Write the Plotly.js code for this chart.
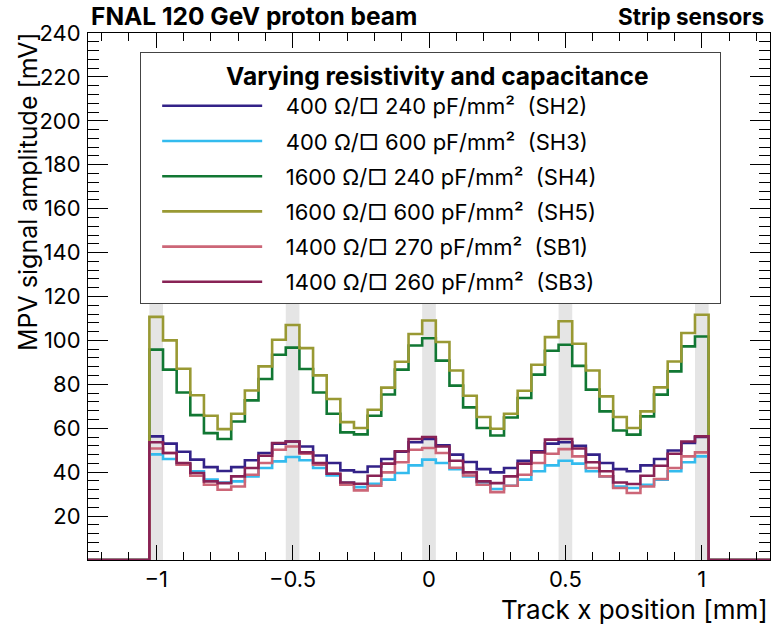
<!DOCTYPE html>
<html>
<head>
<meta charset="utf-8">
<script src="https://cdn.plot.ly/plotly-3.0.1.min.js"></script>
<style>html,body{margin:0;padding:0;background:#fff;}#chart{width:771px;height:626px;}</style>
</head>
<body>
<div id="chart"></div>
<script>
// Bin centres of the track x position histogram [mm]
const binCenters = [-1.00,-0.95,-0.90,-0.85,-0.80,-0.75,-0.70,-0.65,-0.60,-0.55,-0.50,
  -0.45,-0.40,-0.35,-0.30,-0.25,-0.20,-0.15,-0.10,-0.05,0.00,
  0.05,0.10,0.15,0.20,0.25,0.30,0.35,0.40,0.45,0.50,
  0.55,0.60,0.65,0.70,0.75,0.80,0.85,0.90,0.95,1.00];
const binWidth = 0.05;
const axisRange = [-1.25, 1.25];

// MPV signal amplitude [mV] per bin
const sh2 = [56.3,53.0,49.3,45.7,42.3,40.5,42.3,45.4,48.7,53.0,54.0,
  51.7,47.6,44.2,40.8,40.1,42.6,46.0,49.3,53.6,55.1,
  52.2,48.0,44.6,41.4,39.9,41.9,45.2,49.5,53.0,53.6,
  52.0,48.0,44.2,41.4,40.4,43.1,46.0,49.9,53.3,56.0];
const sh3 = [48.1,46.0,43.7,40.4,36.6,35.3,35.8,38.1,41.9,44.9,46.9,
  45.4,41.9,38.5,35.3,33.2,34.7,36.6,39.6,43.1,45.7,
  44.2,41.4,38.1,35.3,32.3,33.8,36.6,40.4,43.1,45.2,
  43.9,40.4,38.1,33.5,32.8,34.3,36.6,40.4,44.5,47.2];
const sh4 = [95.8,86.7,76.3,66.0,57.8,55.1,63.1,72.7,82.4,93.5,96.7,
  87.0,76.3,66.6,58.1,57.2,65.7,75.4,86.7,97.7,101.0,
  90.8,79.4,69.5,60.1,56.7,64.9,73.8,84.4,95.3,98.0,
  88.4,77.6,67.7,59.0,57.1,65.4,75.3,85.9,97.3,101.8];
const sh5 = [110.7,100.0,87.1,75.0,65.7,59.6,66.6,77.2,88.2,100.3,107.0,
  96.5,84.1,73.3,62.8,60.1,68.4,78.5,90.3,102.9,109.1,
  99.3,86.3,74.8,65.1,59.8,66.6,77.1,88.9,101.5,108.7,
  98.5,86.3,74.5,65.1,60.1,67.7,78.6,90.4,103.4,111.7];
const sb1 = [50.8,48.7,43.4,38.4,34.3,32.0,33.5,38.8,44.2,50.2,51.7,
  48.4,43.4,39.3,34.3,31.7,33.8,39.9,44.5,50.2,51.0,
  48.7,42.0,38.5,34.3,30.9,33.8,38.8,44.2,48.4,50.5,
  47.2,41.9,38.1,32.8,30.5,33.5,36.9,41.9,47.2,49.0];
const sb3 = [53.6,48.7,44.2,39.6,35.8,35.0,38.1,41.9,47.5,53.3,54.0,
  49.0,44.2,39.3,35.3,34.7,38.4,43.9,49.5,55.1,56.0,
  51.7,45.2,39.9,35.8,35.0,38.1,43.9,49.0,54.8,55.1,
  50.8,44.5,40.4,35.3,34.6,38.4,42.9,48.4,54.0,56.3];

const seriesNames = [
  "400 Ω/□ 240 pF/mm²  (SH2)",
  "400 Ω/□ 600 pF/mm²  (SH3)",
  "1600 Ω/□ 240 pF/mm²  (SH4)",
  "1600 Ω/□ 600 pF/mm²  (SH5)",
  "1400 Ω/□ 270 pF/mm²  (SB1)",
  "1400 Ω/□ 260 pF/mm²  (SB3)"
];
const seriesValues = [sh2, sh3, sh4, sh5, sb1, sb3];
const seriesColors = ["#332288", "#33BBEE", "#117733", "#999933", "#CC6677", "#882255"];

// Strip (metal) positions shown as grey bands
const stripCenters = [-1.0, -0.5, 0.0, 0.5, 1.0];
const stripWidth = 0.05;

const FONT = "Inter, 'Liberation Sans', Arial, sans-serif";
const pad = "\u00a0\u00a0\u00a0";

function stepTrace(vals, name, color, i) {
  const xs = [axisRange[0]];
  const ys = [0];
  for (let k = 0; k < binCenters.length; k++) {
    xs.push(binCenters[k] - binWidth / 2);
    ys.push(vals[k]);
  }
  xs.push(binCenters[binCenters.length - 1] + binWidth / 2); ys.push(0);
  xs.push(axisRange[1]); ys.push(0);
  return {
    type: "scatter", mode: "lines", x: xs, y: ys, name: pad + name,
    legendgroup: "g" + i,
    line: {shape: "hv", color: color, width: 2.6},
    cliponaxis: false, hoverinfo: "skip"
  };
}

const traces = seriesValues.map((v, i) => stepTrace(v, seriesNames[i], seriesColors[i], i));

const shapes = stripCenters.map(c => ({
  type: "rect", xref: "x", yref: "y",
  x0: c - stripWidth / 2, x1: c + stripWidth / 2, y0: 0, y1: 150,
  fillcolor: "#e5e5e5", line: {width: 0}, layer: "below"
}));

const yTicks = [20,40,60,80,100,120,140,160,180,200,220,240];

const nbL = "\u00a0".repeat(12);
const nbR = "\u00a0".repeat(10);

const layout = {
  width: 771, height: 626,
  margin: {l: 88, r: 1, t: 33, b: 66},
  paper_bgcolor: "#fff", plot_bgcolor: "#fff",
  font: {family: FONT, size: 22, color: "#000"},
  showlegend: true,
  hovermode: false,
  xaxis: {
    range: axisRange, tickmode: "linear", tick0: 0, dtick: 0.5,
    ticks: "inside", ticklen: 15, tickwidth: 1, tickcolor: "#000",
    minor: {tickmode: "linear", tick0: 0, dtick: 0.1, ticks: "inside", ticklen: 8, tickcolor: "#000", tickwidth: 1, showgrid: false},
    showline: true, linecolor: "#000", linewidth: 1, mirror: "allticks",
    showgrid: false, zeroline: false,
    tickfont: {family: FONT, size: 22}, ticklabelstandoff: 0
  },
  yaxis: {
    range: [0, 240], tickmode: "array", tickvals: yTicks,
    ticks: "inside", ticklen: 20, tickwidth: 1, tickcolor: "#000",
    minor: {tickmode: "linear", tick0: 0, dtick: 4, ticks: "inside", ticklen: 11, tickcolor: "#000", tickwidth: 1, showgrid: false},
    showline: true, linecolor: "#000", linewidth: 1, mirror: "allticks",
    showgrid: false, zeroline: false,
    tickfont: {family: FONT, size: 22}, ticklabelstandoff: 2
  },
  legend: {
    x: 0.0762, y: 0.964, xanchor: "left", yanchor: "top",
    bgcolor: "#fff", bordercolor: "#444", borderwidth: 1.2,
    font: {family: FONT, size: 22, color: "#000"},
    title: {text: nbL + "<b>Varying resistivity and capacitance</b>" + nbR, side: "top center",
            font: {family: FONT, size: 24.5, color: "#000"}},
    itemwidth: 100, indentation: 16,
    traceorder: "grouped", tracegroupgap: 3.6,
    itemclick: false, itemdoubleclick: false
  },
  shapes: shapes,
  annotations: [
    {text: "<b>FNAL 120 GeV proton beam</b>", xref: "paper", yref: "paper", x: 0, y: 1.032,
     xanchor: "left", yanchor: "middle", xshift: 1, showarrow: false, font: {family: FONT, size: 24.5}},
    {text: "<b>Strip sensors</b>", xref: "paper", yref: "paper", x: 1, y: 1.032,
     xanchor: "right", yanchor: "middle", xshift: -4, showarrow: false, font: {family: FONT, size: 22.5}},
    {text: "MPV signal amplitude [mV]", xref: "paper", yref: "paper", x: -0.087, y: 1.006,
     xanchor: "center", yanchor: "top", textangle: -90, showarrow: false, font: {family: FONT, size: 25}},
    {text: "Track x position [mm]", xref: "paper", yref: "paper", x: 1, y: -0.093,
     xanchor: "right", yanchor: "middle", xshift: 0, showarrow: false, font: {family: FONT, size: 26}}
  ]
};

Plotly.newPlot("chart", traces, layout, {staticPlot: true, displayModeBar: false});
</script>
</body>
</html>
